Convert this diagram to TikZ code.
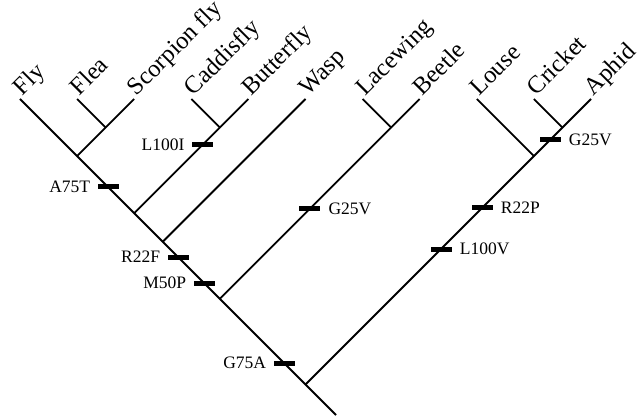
\documentclass[tikz,border=0pt]{standalone}
\usepackage{fontspec}
\setmainfont{Liberation Serif}
\begin{document}
\begin{tikzpicture}[x=1pt,y=-1pt,
  br/.style={line width=1.8pt},
  mut/.style={rectangle, fill=black, inner sep=0pt, minimum width=21pt, minimum height=5pt},
  leaf/.style={rotate=45, anchor=base west, inner sep=0pt, font=\fontsize{24.5}{24.5}\selectfont},
  lab/.style={inner sep=0pt, font=\fontsize{17.5}{17.5}\selectfont}]
\useasboundingbox (0,0) rectangle (643,417);
% tips
\coordinate (tFly) at (20,99);
\coordinate (tFlea) at (77.1,99);
\coordinate (tScorp) at (134.2,99);
\coordinate (tCaddis) at (191.3,99);
\coordinate (tButter) at (248.4,99);
\coordinate (tWasp) at (305.5,99);
\coordinate (tLace) at (362.6,99);
\coordinate (tBeetle) at (419.7,99);
\coordinate (tLouse) at (476.8,99);
\coordinate (tCricket) at (533.9,99);
\coordinate (tAphid) at (591.0,99);
% junctions
\coordinate (j1) at (105.65,127.55);
\coordinate (j2) at (77.1,156.1);
\coordinate (j3) at (219.85,127.55);
\coordinate (j4) at (134.2,213.2);
\coordinate (j5) at (162.75,241.75);
\coordinate (j6) at (391.15,127.55);
\coordinate (j6b) at (219.85,298.85);
\coordinate (j7) at (562.45,127.55);
\coordinate (j7b) at (533.9,156.1);
\coordinate (j8) at (305.5,384.5);
\coordinate (root) at (336,415);
% branches
\draw[br] (tFly) -- (root);
\draw[br] (tFlea) -- (j1);
\draw[br] (tScorp) -- (j2);
\draw[br] (tCaddis) -- (j3);
\draw[br] (tButter) -- (j4);
\draw[br] (tWasp) -- (j5);
\draw[br] (tLace) -- (j6);
\draw[br] (tBeetle) -- (j6b);
\draw[br] (tLouse) -- (j7b);
\draw[br] (tCricket) -- (j7);
\draw[br] (tAphid) -- (j8);
% leaf labels
\node[leaf] (nFly) at ([shift={(2.5,-2.5)}]tFly) {Fly};
\node[leaf] (nFlea) at ([shift={(2.5,-2.5)}]tFlea) {Flea};
\node[leaf] (nScorp) at ([shift={(2.5,-2.5)}]tScorp) {Scorpion fly};
\node[leaf] (nCaddis) at ([shift={(2.5,-2.5)}]tCaddis) {Caddisfly};
\node[leaf] (nButter) at ([shift={(2.5,-2.5)}]tButter) {Butterfly};
\node[leaf] (nWasp) at ([shift={(2.5,-2.5)}]tWasp) {Wasp};
\node[leaf] (nLace) at ([shift={(2.5,-2.5)}]tLace) {Lacewing};
\node[leaf] (nBeetle) at ([shift={(2.5,-2.5)}]tBeetle) {Beetle};
\node[leaf] (nLouse) at ([shift={(2.5,-2.5)}]tLouse) {Louse};
\node[leaf] (nCricket) at ([shift={(2.5,-2.5)}]tCricket) {Cricket};
\node[leaf] (nAphid) at ([shift={(2.5,-2.5)}]tAphid) {Aphid};
% mutations
\node[mut] (mL100I) at (202.4,145) {};
\node[mut] (mA75T) at (108,187) {};
\node[mut] (mR22F) at (178,257) {};
\node[mut] (mM50P) at (204,283) {};
\node[mut] (mG25Va) at (309.7,209) {};
\node[mut] (mG75A) at (284,363) {};
\node[mut] (mL100V) at (441,249) {};
\node[mut] (mR22P) at (482,208) {};
\node[mut] (mG25Vb) at (550,140) {};
\node[lab, anchor=east] (lL100I) at ([xshift=-7pt]mL100I.west) {L100I};
\node[lab, anchor=east] (lA75T) at ([xshift=-7pt]mA75T.west) {A75T};
\node[lab, anchor=east] (lR22F) at ([xshift=-7pt]mR22F.west) {R22F};
\node[lab, anchor=east] (lM50P) at ([xshift=-7pt]mM50P.west) {M50P};
\node[lab, anchor=east] (lG75A) at ([xshift=-7pt]mG75A.west) {G75A};
\node[lab, anchor=west] (lG25Va) at ([xshift=8pt]mG25Va.east) {G25V};
\node[lab, anchor=west] (lL100V) at ([xshift=8pt]mL100V.east) {L100V};
\node[lab, anchor=west] (lR22P) at ([xshift=8pt]mR22P.east) {R22P};
\node[lab, anchor=west] (lG25Vb) at ([xshift=8pt]mG25Vb.east) {G25V};
\end{tikzpicture}
\end{document}
